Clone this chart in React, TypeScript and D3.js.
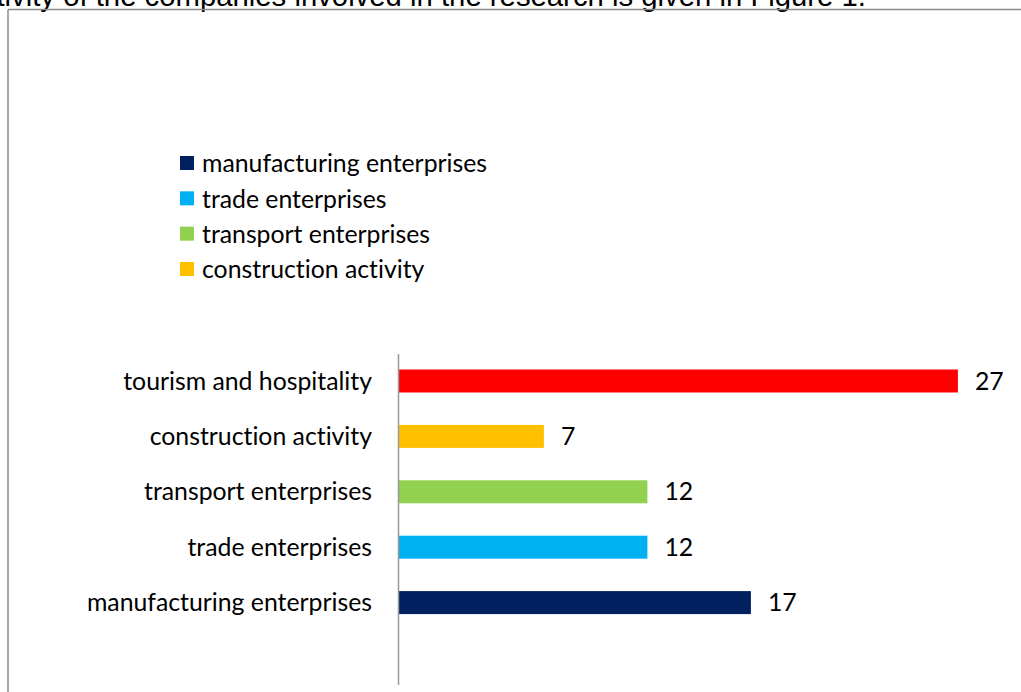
import React from "react";
import * as d3 from "d3";

const categories = [
  "tourism and hospitality",
  "construction activity",
  "transport enterprises",
  "trade enterprises",
  "manufacturing enterprises",
];
const values = [27, 7, 12, 12, 17];
const colors = ["#FF0000", "#FFC000", "#92D050", "#00B0F0", "#002060"];
const legendItems = [
  "manufacturing enterprises",
  "trade enterprises",
  "transport enterprises",
  "construction activity",
];
const legendColors = ["#002060", "#00B0F0", "#92D050", "#FFC000"];
const headerText =
  "activity of the companies involved in the research is given in Figure 1.";

const W = 1021;
const H = 692;
const FONT = "Lato, 'Open Sans', sans-serif";
const FS = 24.8;
const noLig = { fontVariantLigatures: "none" as const };

export default function App() {
  const x = d3.scaleLinear().domain([0, 30]).range([399, 399 + 30 * 20.7]);
  const y = d3
    .scaleBand<string>()
    .domain(categories)
    .range([353.3, 630.3])
    .paddingInner(0.585)
    .paddingOuter(0.2925);
  const legendY = d3
    .scalePoint<string>()
    .domain(legendItems)
    .range([163.5, 269.5]);

  return (
    <svg
      width={W}
      height={H}
      style={{ position: "absolute", left: 0, top: 0, background: "#fff" }}
    >
      <text
        x={866}
        y={6}
        textAnchor="end"
        fontFamily="'Liberation Sans', Arial, sans-serif"
        fontSize={29.3}
        fill="#000"
      >
        {headerText}
      </text>
      <line x1={8} y1={9.5} x2={W} y2={9.5} stroke="#8a8a8a" strokeWidth={1.5} />
      <line x1={8} y1={9.5} x2={8} y2={H} stroke="#8a8a8a" strokeWidth={1.5} />

      {legendItems.map((d, i) => (
        <g key={d}>
          <rect
            x={180}
            y={legendY(d)! - 7.5}
            width={14}
            height={14}
            fill={legendColors[i]}
          />
          <text
            x={202}
            y={legendY(d)!}
            dy="0.35em"
            fontFamily={FONT}
            fontSize={FS}
            fill="#000"
            style={noLig}
          >
            {d}
          </text>
        </g>
      ))}

      {categories.map((c, i) => (
        <g key={c}>
          <rect
            x={x(0)}
            y={y(c)!}
            width={x(values[i]) - x(0)}
            height={y.bandwidth()}
            fill={colors[i]}
          />
          <text
            x={372}
            y={y(c)! + y.bandwidth() / 2}
            dy="0.35em"
            textAnchor="end"
            fontFamily={FONT}
            fontSize={FS}
            fill="#000"
            style={noLig}
          >
            {c}
          </text>
          <text
            x={x(values[i]) + 17}
            y={y(c)! + y.bandwidth() / 2}
            dy="0.35em"
            fontFamily={FONT}
            fontSize={FS}
            fill="#000"
          >
            {values[i]}
          </text>
        </g>
      ))}
      <line x1={398.5} y1={354} x2={398.5} y2={685} stroke="#999" strokeWidth={1.5} />
    </svg>
  );
}
